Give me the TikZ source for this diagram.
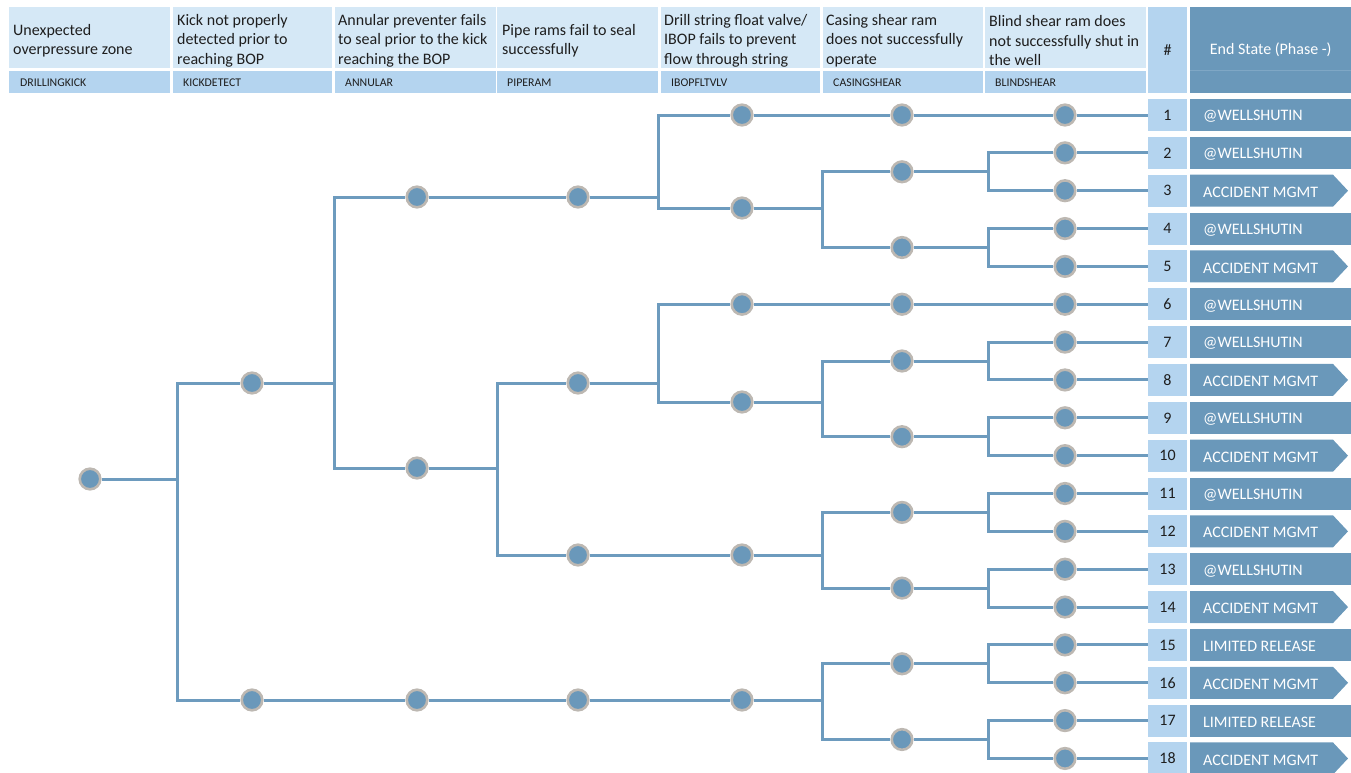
\documentclass[tikz,border=0pt]{standalone}
\usepackage{fontspec}
\setmainfont{Carlito}
\usetikzlibrary{calc,backgrounds}
\definecolor{hdrA}{HTML}{D5E8F6}
\definecolor{hdrB}{HTML}{B4D4EF}
\definecolor{dark}{HTML}{6A98BA}
\definecolor{edgec}{HTML}{6D9BBE}
\definecolor{ring}{HTML}{BDB8B2}
\definecolor{txt}{HTML}{1E1E1E}
\definecolor{faint}{HTML}{7FA7C5}
\tikzset{
 ev/.style={circle, fill=dark, draw=ring, line width=2.6pt, minimum size=20.6pt, inner sep=0pt},
 conn/.style={draw=edgec, line width=3pt},
 hA/.style={fill=hdrA, anchor=north west, minimum height=61pt, inner sep=0pt, outer sep=0pt},
 hB/.style={fill=hdrB, anchor=north west, minimum height=22pt, inner sep=0pt, outer sep=0pt},
 htxt/.style={anchor=west, align=left, inner sep=0pt, font=\fontsize{16}{19.5}\selectfont, text=txt},
 ctxt/.style={anchor=west, inner sep=0pt, font=\fontsize{11.8}{13}\selectfont, text=txt},
 numbox/.style={fill=hdrB, minimum width=39pt, minimum height=32pt, inner sep=0pt, font=\fontsize{16}{18}\selectfont, text=txt},
 etxt/.style={anchor=west, inner sep=0pt, font=\fontsize{16}{18}\selectfont, text=white},
}
\newcommand\rowrect[3]{%
 \fill[dark] (1190,{#2-16}) rectangle (1351,{#2+16});
 \node[numbox] (h#1) at (1167.5,#2) {\raisebox{-1.5pt}{#1}};
 \node[etxt] (s#1) at (1203,{#2+1.5}) {#3};
}
\newcommand\rowarrow[3]{%
 \fill[dark] (1190,{#2-16}) -- (1333,{#2-16}) -- (1348,#2) -- (1333,{#2+16}) -- (1190,{#2+16}) -- cycle;
 \node[numbox] (h#1) at (1167.5,#2) {\raisebox{-1.5pt}{#1}};
 \node[etxt] (s#1) at (1203,{#2+1.5}) {#3};
}
\begin{document}
\begin{tikzpicture}[x=1pt,y=-1pt]
\useasboundingbox (0,0) rectangle (1351,772);
% ---------- header ----------
\node[hA, minimum width=161pt] (c1a) at (9,7) {};
\node[htxt] (t1) at ($(c1a.west)+(4,3)$) {Unexpected\\overpressure zone};
\node[hA, minimum width=159pt] (c2a) at (173,7) {};
\node[htxt] (t2) at ($(c2a.west)+(4,3)$) {Kick not properly\\detected prior to\\reaching BOP};
\node[hA, minimum width=161pt] (c3a) at (335,7) {};
\node[htxt] (t3) at ($(c3a.west)+(3,3)$) {Annular preventer fails\\to seal prior to the kick\\reaching the BOP};
\node[hA, minimum width=161pt] (c4a) at (497,7) {};
\node[htxt] (t4) at ($(c4a.west)+(5,3)$) {Pipe rams fail to seal\\successfully};
\node[hA, minimum width=159pt] (c5a) at (661,7) {};
\node[htxt] (t5) at ($(c5a.west)+(3,3)$) {Drill string float valve/\\IBOP fails to prevent\\flow through string};
\node[hA, minimum width=160pt] (c6a) at (823,7) {};
\node[htxt] (t6) at ($(c6a.west)+(3,3)$) {Casing shear ram\\does not successfully\\operate};
\node[hA, minimum width=161pt] (c7a) at (985,7) {};
\node[htxt] (t7) at ($(c7a.west)+(4,3)$) {Blind shear ram does\\not successfully shut in\\the well};

\node[hB, minimum width=161pt] (c1b) at (9,71) {};
\node[ctxt] (u1) at ($(c1b.west)+(11,0.5)$) {DRILLINGKICK};
\node[hB, minimum width=159pt] (c2b) at (173,71) {};
\node[ctxt] (u2) at ($(c2b.west)+(10,0.5)$) {KICKDETECT};
\node[hB, minimum width=161pt] (c3b) at (335,71) {};
\node[ctxt] (u3) at ($(c3b.west)+(10,0.5)$) {ANNULAR};
\node[hB, minimum width=161pt] (c4b) at (497,71) {};
\node[ctxt] (u4) at ($(c4b.west)+(10,0.5)$) {PIPERAM};
\node[hB, minimum width=159pt] (c5b) at (661,71) {};
\node[ctxt] (u5) at ($(c5b.west)+(10,0.5)$) {IBOPFLTVLV};
\node[hB, minimum width=160pt] (c6b) at (823,71) {};
\node[ctxt] (u6) at ($(c6b.west)+(10,0.5)$) {CASINGSHEAR};
\node[hB, minimum width=161pt] (c7b) at (985,71) {};
\node[ctxt] (u7) at ($(c7b.west)+(10,0.5)$) {BLINDSHEAR};

\node[fill=hdrB, anchor=north west, minimum width=39pt, minimum height=86pt, inner sep=0pt,
      font=\fontsize{16}{18}\selectfont, text=txt] (hnum) at (1148,7) {\raisebox{-2pt}{\#}};
\node[fill=dark, anchor=north west, minimum width=161pt, minimum height=86pt, inner sep=0pt,
      font=\fontsize{16}{18}\selectfont, text=white] (hend) at (1190,7) {\raisebox{-2pt}{End State (Phase -)}};
\draw[faint, line width=0.8pt] (hend.west |- 0,70) -- (hend.east |- 0,70);

% ---------- end states ----------
\rowrect{1}{115}{@WELLSHUTIN}
\rowrect{2}{152.85}{@WELLSHUTIN}
\rowarrow{3}{190.7}{ACCIDENT MGMT}
\rowrect{4}{228.55}{@WELLSHUTIN}
\rowarrow{5}{266.4}{ACCIDENT MGMT}
\rowrect{6}{304.25}{@WELLSHUTIN}
\rowrect{7}{342.1}{@WELLSHUTIN}
\rowarrow{8}{379.95}{ACCIDENT MGMT}
\rowrect{9}{417.8}{@WELLSHUTIN}
\rowarrow{10}{455.65}{ACCIDENT MGMT}
\rowrect{11}{493.5}{@WELLSHUTIN}
\rowarrow{12}{531.35}{ACCIDENT MGMT}
\rowrect{13}{569.2}{@WELLSHUTIN}
\rowarrow{14}{607.05}{ACCIDENT MGMT}
\rowrect{15}{644.9}{LIMITED RELEASE}
\rowarrow{16}{682.75}{ACCIDENT MGMT}
\rowrect{17}{720.6}{LIMITED RELEASE}
\rowarrow{18}{758.45}{ACCIDENT MGMT}

% ---------- event tree nodes ----------
\node[ev] (n0) at (90,479) {};
\node[ev] (a1) at (252,383) {};
\node[ev] (a2) at (252,700) {};
\node[ev] (b1) at (417,197) {};
\node[ev] (b2) at (417,468) {};
\node[ev] (b3) at (417,700) {};
\node[ev] (cc1) at (578,197) {};
\node[ev] (cc2) at (578,383) {};
\node[ev] (cc3) at (578,555) {};
\node[ev] (cc4) at (578,700) {};
\node[ev] (d1) at (742,115) {};
\node[ev] (d2) at (742,208) {};
\node[ev] (d3) at (742,304.25) {};
\node[ev] (d4) at (742,402) {};
\node[ev] (d5) at (742,555) {};
\node[ev] (d6) at (742,700) {};
\node[ev] (e1) at (902,115) {};
\node[ev] (e2) at (902,171.8) {};
\node[ev] (e3) at (902,247.5) {};
\node[ev] (e4) at (902,304.25) {};
\node[ev] (e5) at (902,361) {};
\node[ev] (e6) at (902,436.7) {};
\node[ev] (e7) at (902,512.4) {};
\node[ev] (e8) at (902,588.1) {};
\node[ev] (e9) at (902,663.8) {};
\node[ev] (e10) at (902,739.5) {};
\foreach \i/\y in {1/115,2/152.85,3/190.7,4/228.55,5/266.4,6/304.25,7/342.1,8/379.95,9/417.8,
  10/455.65,11/493.5,12/531.35,13/569.2,14/607.05,15/644.9,16/682.75,17/720.6,18/758.45}
  \node[ev] (f\i) at (1065,\y) {};

\coordinate (k1) at (177,0);
\coordinate (k2) at (334,0);
\coordinate (k3) at (497,0);
\coordinate (k4) at (658,0);
\coordinate (k5) at (822,0);
\coordinate (k6) at (988,0);

% ---------- connectors ----------
\begin{pgfonlayer}{background}
\draw[conn] (n0) -- (n0-|k1) |- (a1);
\draw[conn] (n0-|k1) |- (a2);
\draw[conn] (a1) -- (a1-|k2) |- (b1);
\draw[conn] (a1-|k2) |- (b2);
\draw[conn] (a2) -- (b3) -- (cc4) -- (d6);
\draw[conn] (b1) -- (cc1);
\draw[conn] (cc1) -- (cc1-|k4) |- (d1);
\draw[conn] (cc1-|k4) |- (d2);
\draw[conn] (d1) -- (e1) -- (f1);
\draw[conn] (d2) -- (d2-|k5) |- (e2);
\draw[conn] (d2-|k5) |- (e3);
\draw[conn] (b2) -- (b2-|k3) |- (cc2);
\draw[conn] (b2-|k3) |- (cc3);
\draw[conn] (cc2) -- (cc2-|k4) |- (d3);
\draw[conn] (cc2-|k4) |- (d4);
\draw[conn] (d3) -- (e4) -- (f6);
\draw[conn] (d4) -- (d4-|k5) |- (e5);
\draw[conn] (d4-|k5) |- (e6);
\draw[conn] (cc3) -- (d5);
\draw[conn] (d5) -- (d5-|k5) |- (e7);
\draw[conn] (d5-|k5) |- (e8);
\draw[conn] (d6) -- (d6-|k5) |- (e9);
\draw[conn] (d6-|k5) |- (e10);
\draw[conn] (e2) -- (e2-|k6) |- (f2);
\draw[conn] (e2-|k6) |- (f3);
\draw[conn] (e3) -- (e3-|k6) |- (f4);
\draw[conn] (e3-|k6) |- (f5);
\draw[conn] (e5) -- (e5-|k6) |- (f7);
\draw[conn] (e5-|k6) |- (f8);
\draw[conn] (e6) -- (e6-|k6) |- (f9);
\draw[conn] (e6-|k6) |- (f10);
\draw[conn] (e7) -- (e7-|k6) |- (f11);
\draw[conn] (e7-|k6) |- (f12);
\draw[conn] (e8) -- (e8-|k6) |- (f13);
\draw[conn] (e8-|k6) |- (f14);
\draw[conn] (e9) -- (e9-|k6) |- (f15);
\draw[conn] (e9-|k6) |- (f16);
\draw[conn] (e10) -- (e10-|k6) |- (f17);
\draw[conn] (e10-|k6) |- (f18);
\foreach \i in {1,...,18} \draw[conn] (f\i) -- (h\i);
\end{pgfonlayer}
\end{tikzpicture}
\end{document}
